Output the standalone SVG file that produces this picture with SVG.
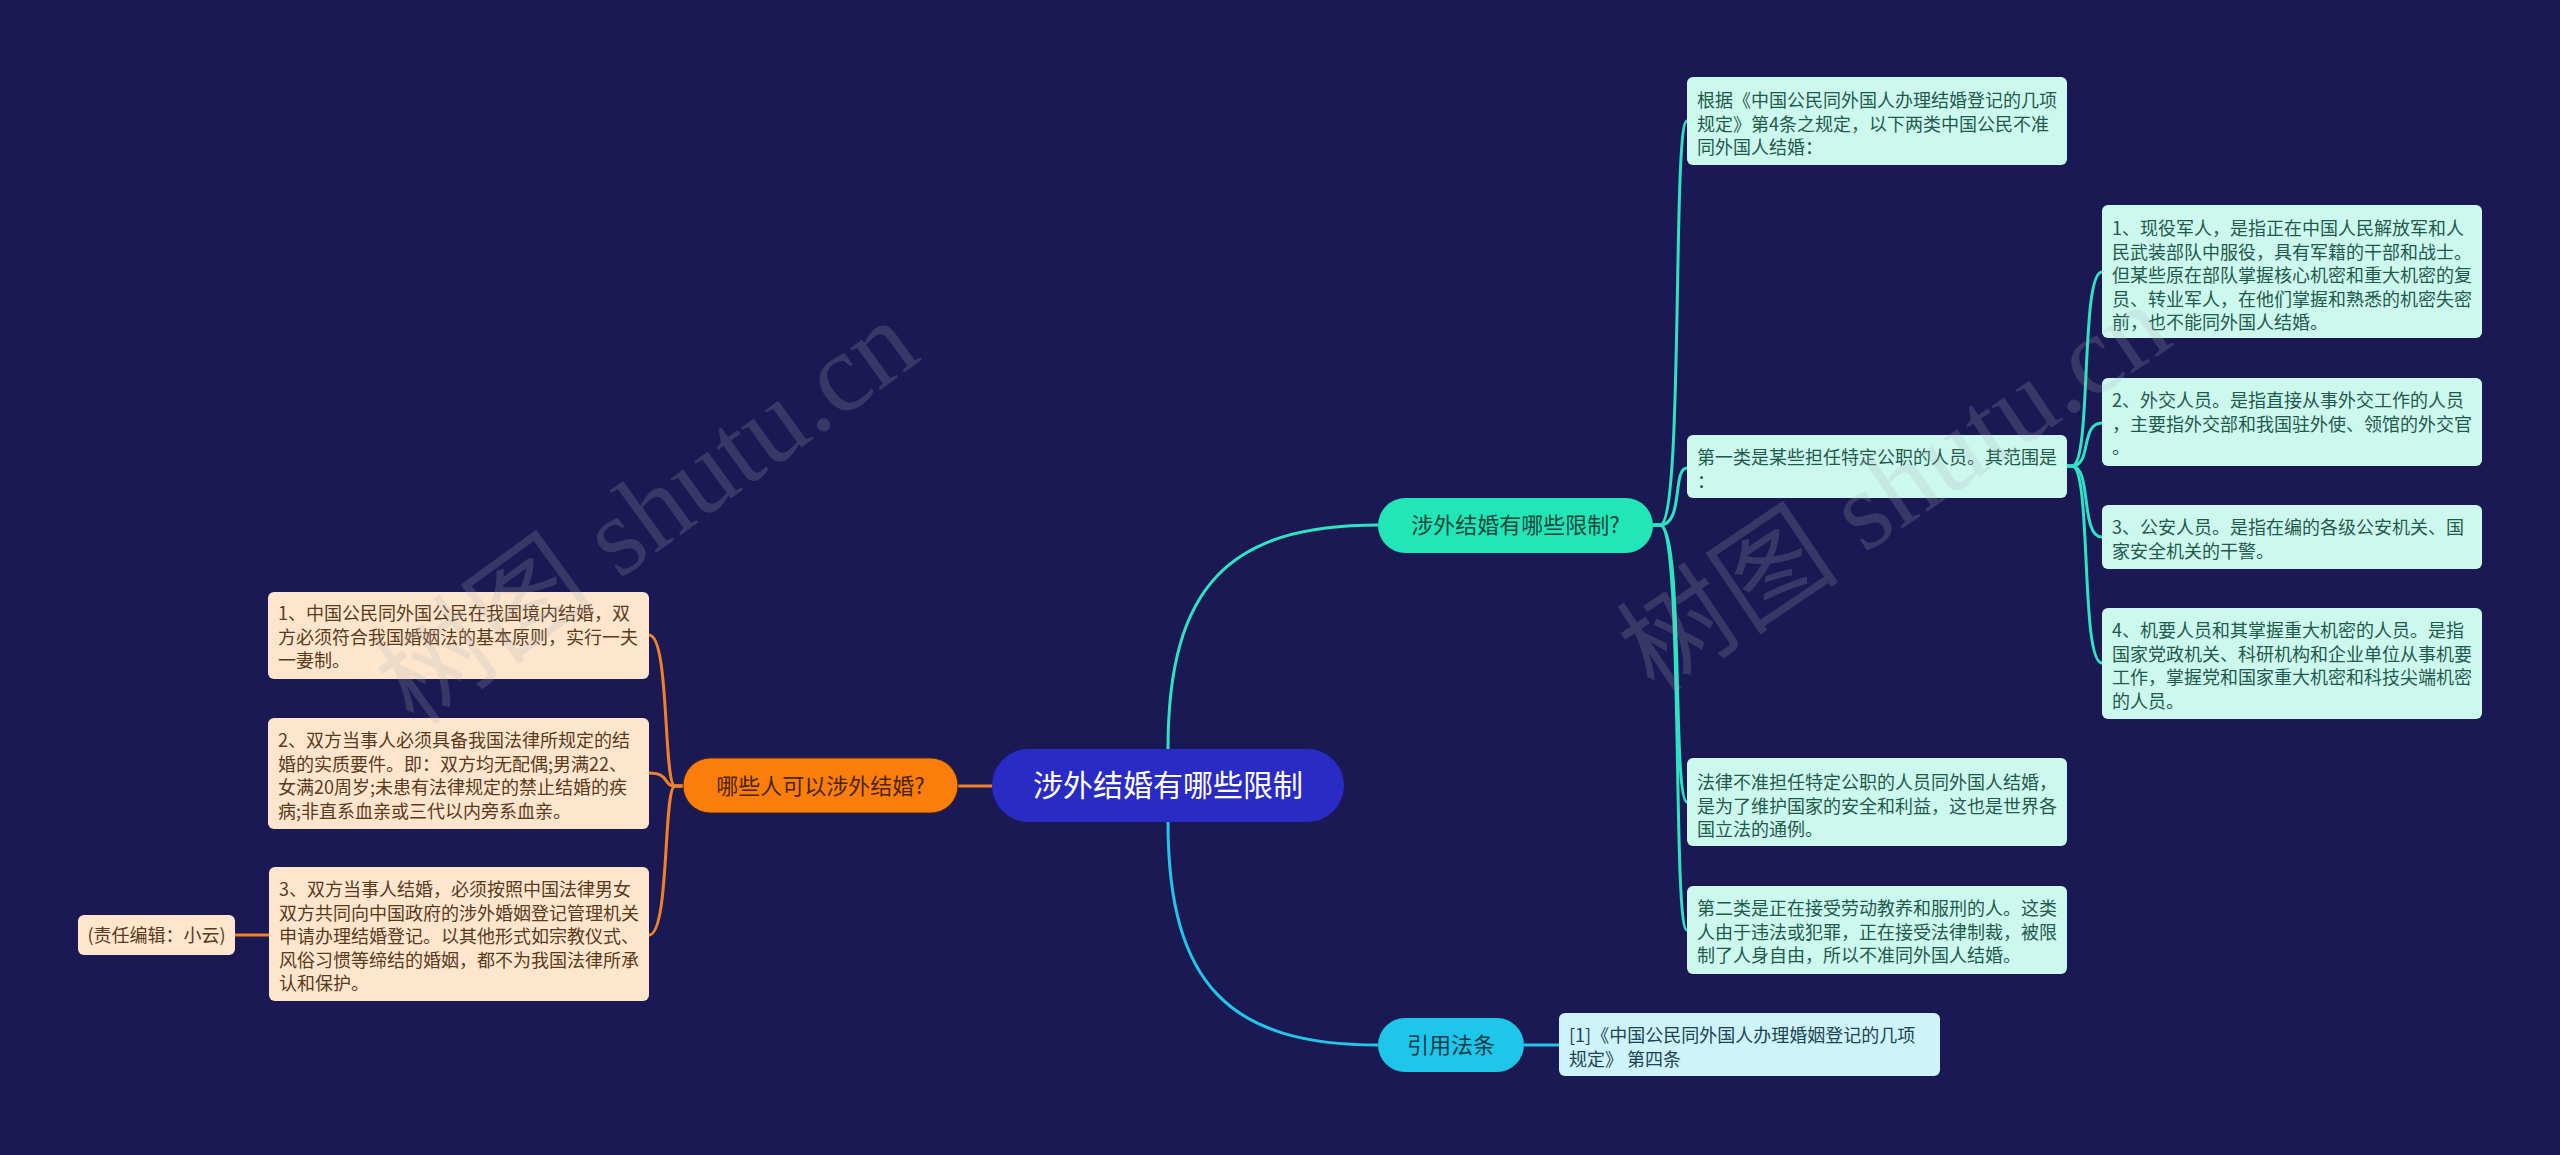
<svg xmlns="http://www.w3.org/2000/svg" width="2560" height="1155" viewBox="0 0 2560 1155">
<style>
text{font-family:"Noto Sans CJK SC","Noto Sans",sans-serif;}
.mint{fill:#cdf8ee;}
.mint-t{fill:#1f5a4c;font-size:18px;}
.peach{fill:#fde6cd;}
.peach-t{fill:#5a3a1c;font-size:18px;}
.refbox{fill:#cff3fb;}
.ref-t{fill:#1d4450;font-size:18px;}
.c-teal{fill:none;stroke:#2ee3c3;stroke-width:3;}
.c-cyan{fill:none;stroke:#21c6e8;stroke-width:3;}
.c-orange{fill:none;stroke:#f0812a;stroke-width:3;}
.wm{fill:#b0b0b8;fill-opacity:0.2;font-size:112px;font-family:"Liberation Serif","Noto Sans CJK SC",serif;}
</style>
<rect x="0" y="0" width="2560" height="1155" fill="#1b1953"/>

<g id="connectors">
<path class="c-teal" d="M1168,749 C1168,585 1230,525 1378,525"/>
<path class="c-cyan" d="M1168,822 C1168,985 1230,1045 1378,1045"/>
<path class="c-orange" d="M958,786 L992,786"/>
<path class="c-cyan" d="M1524,1045 L1559,1045"/>
<path class="c-teal" d="M1653,525 L1660,525 C1684,525 1672,121 1687,121"/>
<path class="c-teal" d="M1653,525 L1660,525 C1684,525 1672,468 1687,468"/>
<path class="c-teal" d="M1653,525 L1660,525 C1684,525 1672,802 1687,802"/>
<path class="c-teal" d="M1653,525 L1660,525 C1684,525 1672,930 1687,930"/>
<path class="c-teal" d="M2067,466 L2072,466 C2092,466 2080,272 2102,272"/>
<path class="c-teal" d="M2067,466 L2072,466 C2092,466 2080,423 2102,423"/>
<path class="c-teal" d="M2067,466 L2072,466 C2092,466 2080,537 2102,537"/>
<path class="c-teal" d="M2067,466 L2072,466 C2092,466 2080,663 2102,663"/>
<path class="c-orange" d="M683,786 L675,786 C663,786 670,635 649,635"/>
<path class="c-orange" d="M683,786 L675,786 C663,786 670,773 649,773"/>
<path class="c-orange" d="M683,786 L675,786 C663,786 670,935 649,935"/>
<path class="c-orange" d="M235,935 L269,935"/>
</g>

<g id="central">
<rect x="992" y="749" width="352" height="73" rx="36.5" fill="#2a2bc4"/>
<text x="1168" y="796" text-anchor="middle" fill="#ffffff" font-size="30">涉外结婚有哪些限制</text>
</g>

<g id="branch-limits">
<rect x="1378" y="498" width="275" height="55" rx="27.5" fill="#22e6b8"/>
<text x="1515.5" y="533" text-anchor="middle" fill="#17483c" font-size="22">涉外结婚有哪些限制?</text>
</g>

<g id="branch-who">
<rect x="683" y="758" width="275" height="55" rx="27.5" fill="#fb7e0c" stroke="#4a2a10" stroke-width="1"/>
<text x="820.5" y="794" text-anchor="middle" fill="#4a2405" font-size="22">哪些人可以涉外结婚?</text>
</g>

<g id="branch-law">
<rect x="1378" y="1018" width="146" height="54" rx="27" fill="#1ec6ea"/>
<text x="1451" y="1053" text-anchor="middle" fill="#0e3a4a" font-size="22">引用法条</text>
</g>

<g id="node-a">
<rect class="mint" x="1687" y="77" width="380" height="88" rx="6"/>
<text class="mint-t" x="1697" y="107">根据《中国公民同外国人办理结婚登记的几项</text>
<text class="mint-t" x="1697" y="130.5">规定》第4条之规定，以下两类中国公民不准</text>
<text class="mint-t" x="1697" y="154">同外国人结婚：</text>
</g>

<g id="node-b">
<rect class="mint" x="1687" y="435" width="380" height="63" rx="6"/>
<text class="mint-t" x="1697" y="464">第一类是某些担任特定公职的人员。其范围是</text>
<text class="mint-t" x="1697" y="487.5">：</text>
</g>

<g id="node-c">
<rect class="mint" x="1687" y="758" width="380" height="88" rx="6"/>
<text class="mint-t" x="1697" y="789">法律不准担任特定公职的人员同外国人结婚，</text>
<text class="mint-t" x="1697" y="812.5">是为了维护国家的安全和利益，这也是世界各</text>
<text class="mint-t" x="1697" y="836">国立法的通例。</text>
</g>

<g id="node-d">
<rect class="mint" x="1687" y="886" width="380" height="88" rx="6"/>
<text class="mint-t" x="1697" y="915">第二类是正在接受劳动教养和服刑的人。这类</text>
<text class="mint-t" x="1697" y="938.5">人由于违法或犯罪，正在接受法律制裁，被限</text>
<text class="mint-t" x="1697" y="962">制了人身自由，所以不准同外国人结婚。</text>
</g>

<g id="node-sub1">
<rect class="mint" x="2102" y="205" width="380" height="133" rx="6"/>
<text class="mint-t" x="2112" y="235">1、现役军人，是指正在中国人民解放军和人</text>
<text class="mint-t" x="2112" y="258.5">民武装部队中服役，具有军籍的干部和战士。</text>
<text class="mint-t" x="2112" y="282">但某些原在部队掌握核心机密和重大机密的复</text>
<text class="mint-t" x="2112" y="305.5">员、转业军人，在他们掌握和熟悉的机密失密</text>
<text class="mint-t" x="2112" y="329">前，也不能同外国人结婚。</text>
</g>

<g id="node-sub2">
<rect class="mint" x="2102" y="378" width="380" height="88" rx="6"/>
<text class="mint-t" x="2112" y="407">2、外交人员。是指直接从事外交工作的人员</text>
<text class="mint-t" x="2112" y="430.5">，主要指外交部和我国驻外使、领馆的外交官</text>
<text class="mint-t" x="2112" y="454">。</text>
</g>

<g id="node-sub3">
<rect class="mint" x="2102" y="505" width="380" height="64" rx="6"/>
<text class="mint-t" x="2112" y="534">3、公安人员。是指在编的各级公安机关、国</text>
<text class="mint-t" x="2112" y="557.5">家安全机关的干警。</text>
</g>

<g id="node-sub4">
<rect class="mint" x="2102" y="608" width="380" height="111" rx="6"/>
<text class="mint-t" x="2112" y="637">4、机要人员和其掌握重大机密的人员。是指</text>
<text class="mint-t" x="2112" y="660.5">国家党政机关、科研机构和企业单位从事机要</text>
<text class="mint-t" x="2112" y="684">工作，掌握党和国家重大机密和科技尖端机密</text>
<text class="mint-t" x="2112" y="707.5">的人员。</text>
</g>

<g id="node-ref">
<rect class="refbox" x="1559" y="1013" width="381" height="63" rx="6"/>
<text class="ref-t" x="1569" y="1042">[1]《中国公民同外国人办理婚姻登记的几项</text>
<text class="ref-t" x="1569" y="1065.5">规定》 第四条</text>
</g>

<g id="node-l1">
<rect class="peach" x="268" y="592" width="381" height="87" rx="6"/>
<text class="peach-t" x="278" y="620">1、中国公民同外国公民在我国境内结婚，双</text>
<text class="peach-t" x="278" y="643.5">方必须符合我国婚姻法的基本原则，实行一夫</text>
<text class="peach-t" x="278" y="667">一妻制。</text>
</g>

<g id="node-l2">
<rect class="peach" x="268" y="718" width="381" height="111" rx="6"/>
<text class="peach-t" x="278" y="747">2、双方当事人必须具备我国法律所规定的结</text>
<text class="peach-t" x="278" y="770.5">婚的实质要件。即：双方均无配偶;男满22、</text>
<text class="peach-t" x="278" y="794">女满20周岁;未患有法律规定的禁止结婚的疾</text>
<text class="peach-t" x="278" y="817.5">病;非直系血亲或三代以内旁系血亲。</text>
</g>

<g id="node-l3">
<rect class="peach" x="269" y="867" width="380" height="134" rx="6"/>
<text class="peach-t" x="279" y="896">3、双方当事人结婚，必须按照中国法律男女</text>
<text class="peach-t" x="279" y="919.5">双方共同向中国政府的涉外婚姻登记管理机关</text>
<text class="peach-t" x="279" y="943">申请办理结婚登记。以其他形式如宗教仪式、</text>
<text class="peach-t" x="279" y="966.5">风俗习惯等缔结的婚姻，都不为我国法律所承</text>
<text class="peach-t" x="279" y="990">认和保护。</text>
</g>

<g id="node-editor">
<rect class="peach" x="78" y="915" width="157" height="40" rx="6"/>
<text class="peach-t" x="156.5" y="942" text-anchor="middle">(责任编辑：小云)</text>
</g>

<g id="watermarks">
<text class="wm" transform="translate(415,728) rotate(-36)">树图 shutu.cn</text>
<text class="wm" transform="translate(1655,695) rotate(-34)">树图 shutu.cn</text>
</g>
</svg>
